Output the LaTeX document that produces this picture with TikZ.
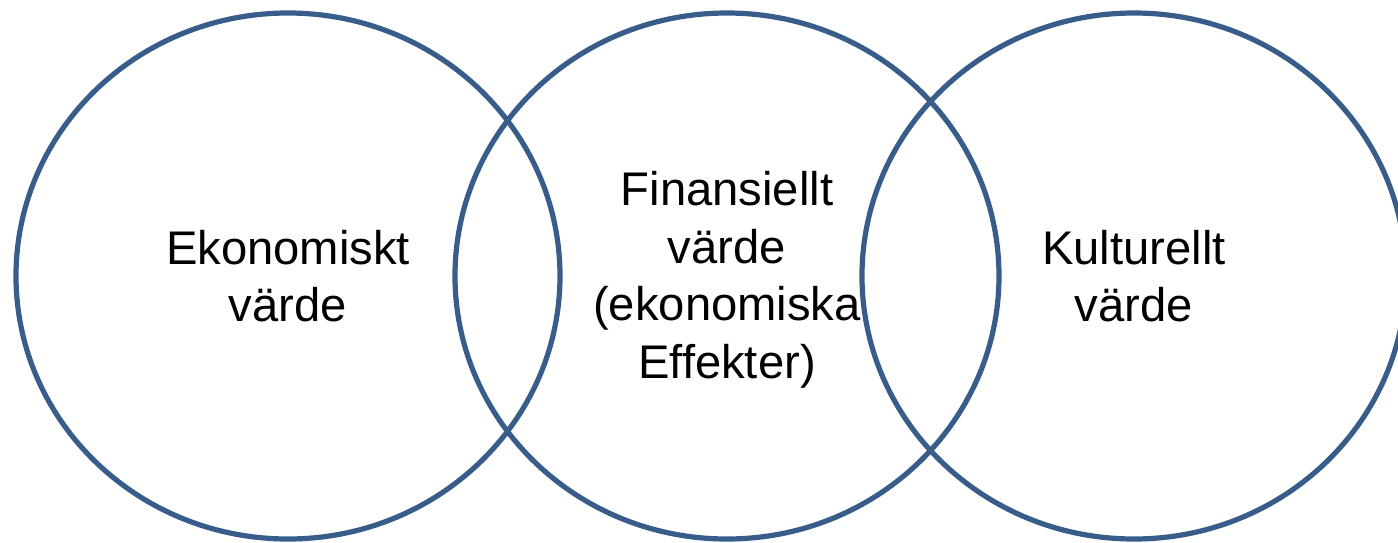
\documentclass[tikz,border=0pt]{standalone}
\usepackage{fontspec}
\setmainfont{Liberation Sans}
\usepackage{xcolor}
\usepackage{tikz}
\usetikzlibrary{positioning, calc}
\definecolor{rimblue}{HTML}{385D8A}

\begin{document}
\begin{tikzpicture}[x=0.5pt, y=-0.5pt,
    rim/.style={draw=rimblue, line width=2.6pt},
    label/.style={align=center, inner sep=0pt, text=black,
      font=\fontsize{23.6}{28.75}\selectfont}]
      \useasboundingbox (0,0) rectangle (1398,542);

      % left: ekonomiskt
      \draw [rim] (288,276) ellipse [x radius=272, y radius=263]
        node [label] (eko) {Ekonomiskt\\v\"arde};
      % middle: finansiellt
      \draw [rim] (727,276) ellipse [x radius=272, y radius=263]
        node [label, yshift=-2pt] (fin) {Finansiellt\\v\"arde\\(ekonomiska\\Effekter)};
      % right: kulturellt
      \draw [rim] (1134,276) ellipse [x radius=272, y radius=263]
        node [label] (kul) {Kulturellt\\v\"arde};
    \end{tikzpicture}
\end{document}
